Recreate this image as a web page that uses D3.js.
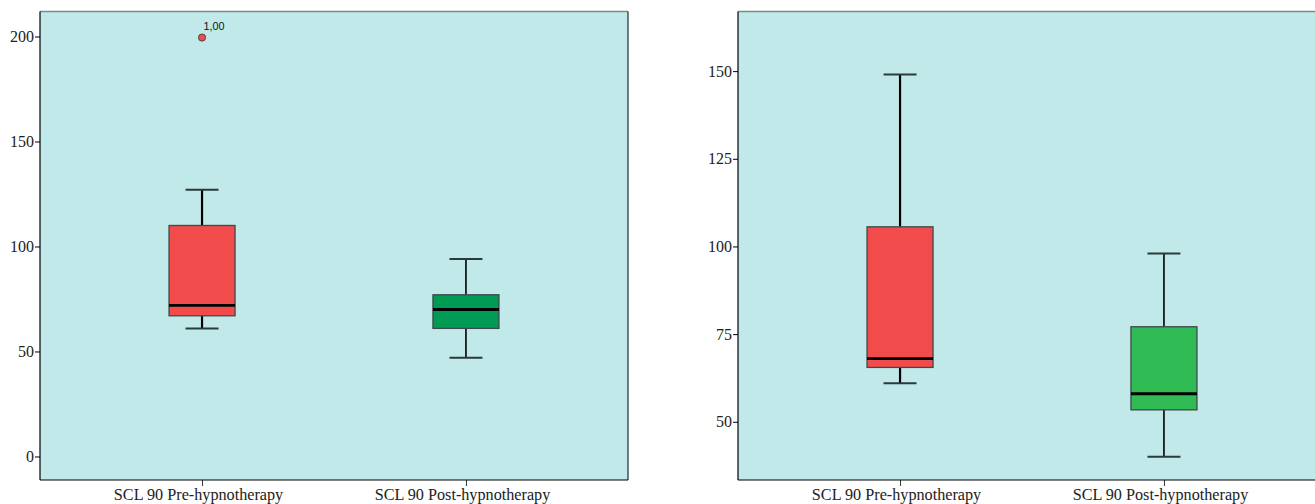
<!DOCTYPE html>
<html><head><meta charset="utf-8">
<script src="https://cdn.jsdelivr.net/npm/d3@7"></script>
<style>body{margin:0;background:#fff;overflow:hidden}svg{display:block}</style>
</head><body>
<svg id="c" width="1315" height="504"></svg>
<script>
const categories = ["SCL 90 Pre-hypnotherapy", "SCL 90 Post-hypnotherapy"];
// left panel: [whiskerLow, q1, median, q3, whiskerHigh]
const leftStats = [
  [61, 67, 72, 110, 127],
  [47, 61, 70, 77, 94]
];
const leftOutliers = [{cat: 0, value: 199.5, label: "1,00"}];
const leftTicks = [0, 50, 100, 150, 200];
// right panel
const rightStats = [
  [61, 65.5, 68, 105.6, 149],
  [40, 53.4, 58, 77.1, 98]
];
const rightTicks = [50, 75, 100, 125, 150];

const leftFills = ["#f24b4b", "#009a55"];
const rightFills = ["#f24b4b", "#31bb55"];

const svg = d3.select("#c");

function panel(opt) {
  const {x0, x1, y0, y1, domain, stats, ticks, fills, outliers, rightBorder} = opt;
  const g = svg.append("g");
  const y = d3.scaleLinear().domain(domain).range([y1, y0]);
  const x = d3.scalePoint().domain(categories).range([x0, x1]).padding(0.614);
  g.append("rect").attr("x", x0).attr("y", y0).attr("width", x1 - x0).attr("height", y1 - y0)
    .attr("fill", "#c1e9ea");
  g.append("line").attr("x1", x0).attr("x2", x1).attr("y1", y0).attr("y2", y0)
    .attr("stroke", "#7a8a8a").attr("stroke-width", 1.5);
  if (rightBorder) {
    g.append("line").attr("x1", x1).attr("x2", x1).attr("y1", y0).attr("y2", y1)
      .attr("stroke", "#1a2a2a").attr("stroke-width", 1.2);
  }
  const ya = g.append("g").attr("transform", `translate(${x0},0)`)
    .call(d3.axisLeft(y).tickValues(ticks).tickSize(5).tickPadding(1).tickFormat(d3.format("d")));
  ya.select(".domain").remove();
  ya.selectAll("line").attr("stroke", "#000");
  ya.selectAll("text").attr("font-family", "Liberation Serif, serif").attr("font-size", 16).attr("fill", "#222");
  g.append("line").attr("x1", x0).attr("x2", x0).attr("y1", y0).attr("y2", y1)
    .attr("stroke", "#000").attr("stroke-width", 1.2);
  const xa = g.append("g").attr("transform", `translate(0,${y1})`)
    .call(d3.axisBottom(x).tickSize(6).tickPadding(2));
  xa.select(".domain").remove();
  xa.selectAll("line").attr("stroke", "#333");
  xa.selectAll("text").attr("font-family", "Liberation Serif, serif").attr("font-size", 16.2)
    .attr("fill", "#222").attr("dx", -4);
  g.append("line").attr("x1", x0).attr("x2", x1).attr("y1", y1).attr("y2", y1)
    .attr("stroke", "#000").attr("stroke-width", 1.2);

  const bw = 66, cw = 33;
  stats.forEach((s, i) => {
    const cx = x(categories[i]);
    const [lo, q1, med, q3, hi] = s;
    const bg = g.append("g");
    bg.append("line").attr("x1", cx).attr("x2", cx).attr("y1", y(hi)).attr("y2", y(q3))
      .attr("stroke", "#000").attr("stroke-width", i === 0 ? 2.2 : 1.6);
    bg.append("line").attr("x1", cx).attr("x2", cx).attr("y1", y(q1)).attr("y2", y(lo))
      .attr("stroke", "#000").attr("stroke-width", i === 0 ? 2.2 : 1.6);
    [lo, hi].forEach(v => {
      bg.append("line").attr("x1", cx - cw / 2).attr("x2", cx + cw / 2).attr("y1", y(v)).attr("y2", y(v))
        .attr("stroke", "#2a3a3a").attr("stroke-width", 2);
    });
    bg.append("rect").attr("x", cx - bw / 2).attr("y", y(q3)).attr("width", bw).attr("height", y(q1) - y(q3))
      .attr("fill", fills[i]).attr("stroke", "#3a4a4a").attr("stroke-width", 1.3);
    bg.append("line").attr("x1", cx - bw / 2).attr("x2", cx + bw / 2).attr("y1", y(med)).attr("y2", y(med))
      .attr("stroke", "#000").attr("stroke-width", 2.8);
  });
  (outliers || []).forEach(o => {
    const cx = x(categories[o.cat]);
    g.append("circle").attr("cx", cx).attr("cy", y(o.value)).attr("r", 3.6)
      .attr("fill", "#f24b4b").attr("stroke", "#333").attr("stroke-width", 0.8);
    g.append("text").attr("x", cx + 1.5).attr("y", y(o.value) - 7.5)
      .attr("font-family", "Liberation Sans, Arial, sans-serif").attr("font-size", 10.8).attr("fill", "#111")
      .text(o.label);
  });
}

panel({x0: 40, x1: 628, y0: 11.5, y1: 480, domain: [-11.2, 211.9], stats: leftStats,
  ticks: leftTicks, fills: leftFills, outliers: leftOutliers, rightBorder: true});
panel({x0: 738, x1: 1326, y0: 11.5, y1: 480, domain: [33.4, 167], stats: rightStats,
  ticks: rightTicks, fills: rightFills, outliers: [], rightBorder: false});
</script>
</body></html>
